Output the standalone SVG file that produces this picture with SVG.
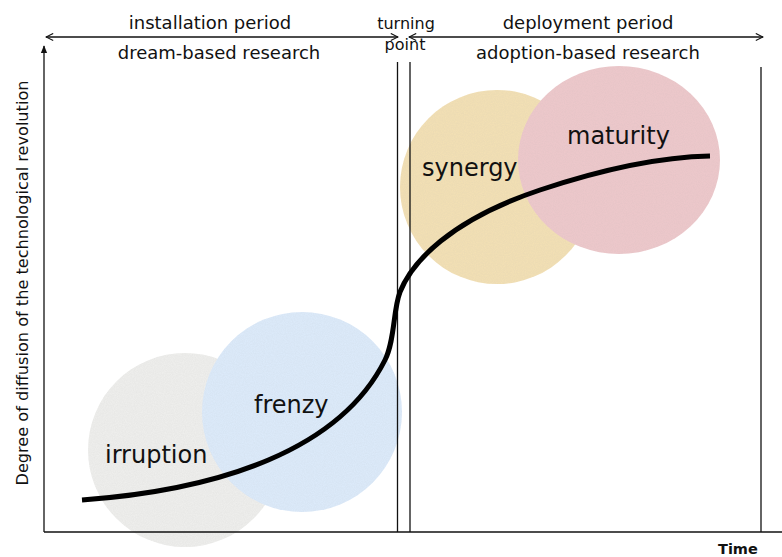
<svg xmlns="http://www.w3.org/2000/svg" width="782" height="557" viewBox="0 0 782 557">
  <defs>
    <style>
      .t { font-family: "DejaVu Sans", Verdana, sans-serif; fill: #111; }
      .hdr { font-size: 18px; text-anchor: middle; }
      .tp { font-size: 16px; text-anchor: middle; }
      .lbl { font-size: 24px; }
      .ln { stroke: #111; stroke-width: 1.3; fill: none; }
    </style>
    <marker id="open" viewBox="0 0 10 10" refX="9" refY="5" markerWidth="9" markerHeight="9" markerUnits="userSpaceOnUse" orient="auto-start-reverse">
      <path d="M1,1 L9,5 L1,9" fill="none" stroke="#111" stroke-width="1.2"/>
    </marker>
    <marker id="solid" viewBox="0 0 10 10" refX="9" refY="5" markerWidth="8" markerHeight="10" markerUnits="userSpaceOnUse" orient="auto">
      <path d="M0,1 L10,5 L0,9 Z" fill="#111"/>
    </marker>
    <filter id="tex" x="0" y="0" width="100%" height="100%">
      <feTurbulence type="fractalNoise" baseFrequency="0.9" numOctaves="2" seed="3" result="n"/>
      <feColorMatrix in="n" type="matrix" values="0 0 0 0 0.45  0 0 0 0 0.45  0 0 0 0 0.45  0 0 0 0.2 -0.04" result="g"/>
      <feComposite in="g" in2="SourceAlpha" operator="in" result="gc"/>
      <feMerge><feMergeNode in="SourceGraphic"/><feMergeNode in="gc"/></feMerge>
    </filter>
  </defs>
  <rect width="782" height="557" fill="#ffffff"/>

  <g id="irruption">
    <circle cx="185" cy="450" r="97" fill="#eeeeec" filter="url(#tex)"/>
    <text class="t lbl" x="105" y="463">irruption</text>
  </g>
  <g id="frenzy">
    <circle cx="302" cy="412" r="100" fill="#dceafa" filter="url(#tex)"/>
    <text class="t lbl" x="254" y="413">frenzy</text>
  </g>
  <g id="synergy">
    <circle cx="497" cy="187" r="97" fill="#f3e0b4" filter="url(#tex)"/>
    <text class="t lbl" x="422" y="176">synergy</text>
  </g>
  <g id="maturity">
    <ellipse cx="619" cy="160" rx="101" ry="94" fill="#edc8cb" filter="url(#tex)"/>
    <text class="t lbl" x="567" y="144">maturity</text>
  </g>

  <g id="connectors">
    <!-- axes -->
    <line class="ln" x1="44" y1="532" x2="44" y2="46" marker-end="url(#solid)"/>
    <line class="ln" x1="44" y1="532" x2="782" y2="532"/>
    <!-- period dividers -->
    <line class="ln" x1="397.5" y1="62" x2="397.5" y2="532"/>
    <line class="ln" x1="410" y1="62" x2="410" y2="532"/>
    <line class="ln" x1="761" y1="67" x2="761" y2="532"/>
    <!-- period arrows -->
    <line class="ln" x1="46" y1="37" x2="398" y2="37" marker-start="url(#open)" marker-end="url(#open)"/>
    <line class="ln" x1="409" y1="37" x2="763" y2="37" marker-start="url(#open)" marker-end="url(#open)"/>
    <!-- diffusion curve -->
    <path d="M82,500 C220,490 340,450 385,360 C395,340 393,310 400,292 C412,262 450,220 540,190 C600,170 660,157 710,156" fill="none" stroke="#000" stroke-width="5"/>
  </g>

  <g id="labels">
    <text class="t hdr" x="210" y="29">installation period</text>
    <text class="t hdr" x="219" y="59">dream-based research</text>
    <text class="t hdr" x="588" y="29">deployment period</text>
    <text class="t hdr" x="588" y="59">adoption-based research</text>
    <text class="t tp" x="406" y="29">turning</text>
    <text class="t tp" x="405" y="50">point</text>
    <text class="t" font-size="15" text-anchor="middle" transform="translate(28,283) rotate(-90)" textLength="405" lengthAdjust="spacingAndGlyphs">Degree of diffusion of the technological revolution</text>
    <text class="t" font-size="14.5" font-weight="bold" x="718" y="554">Time</text>
  </g>
</svg>
